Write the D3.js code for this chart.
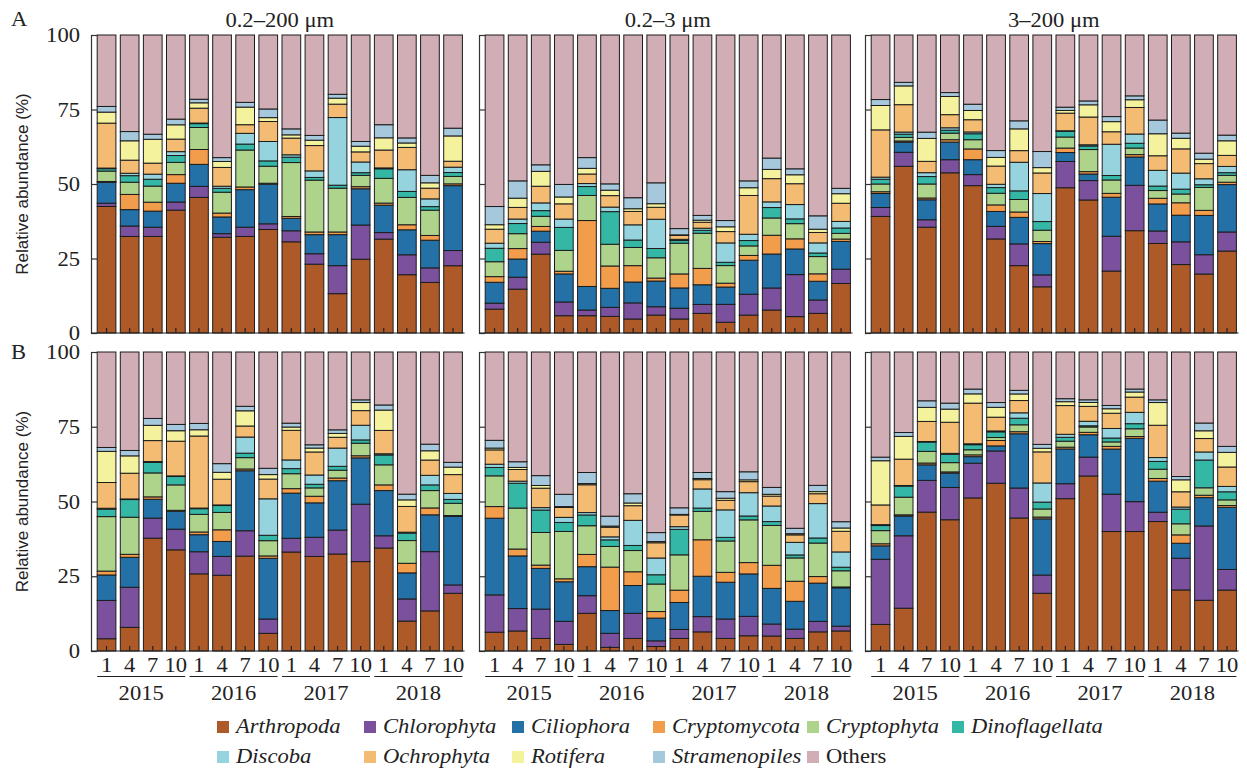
<!DOCTYPE html>
<html>
<head>
<meta charset="utf-8">
<script src="https://cdn.jsdelivr.net/npm/d3@7"></script>
<style>
  body { margin: 0; background: #fff; }
  svg { display: block; }
</style>
</head>
<body>
<svg id="chart" width="1247" height="770"></svg>
<script>
// taxa, bottom to top of every bar
const categories = ["Arthropoda", "Chlorophyta", "Ciliophora", "Cryptomycota", "Cryptophyta",
  "Dinoflagellata", "Discoba", "Ochrophyta", "Rotifera", "Stramenopiles", "Others"];
const colors = ["#ad5a28", "#7b519d", "#2471a8", "#f29d4b", "#aed38a",
  "#35b7a6", "#95d3df", "#f4bc72", "#f5f29e", "#a6c8dc", "#d1adb6"];
const months = ["1", "4", "7", "10"];
const years = ["2015", "2016", "2017", "2018"];
const sizeFractions = ["0.2\u2013200 \u03bcm", "0.2\u20133 \u03bcm", "3\u2013200 \u03bcm"];
const rowNames = ["A", "B"];
const yTicks = [0, 25, 50, 75, 100];

// relative abundance (%) per sample, order = categories
const a1 = [
  [42.5,1.1,7.0,0.3,3.5,0.8,0.2,15.1,3.7,1.9,24.0],
  [32.4,3.5,5.5,5.1,4.1,2.2,0.8,4.4,6.5,3.1,32.4],
  [32.4,3.1,5.4,3.0,5.4,2.3,1.7,3.7,8.0,1.7,33.3],
  [41.2,2.7,6.3,2.9,4.1,2.3,1.3,4.2,4.8,1.9,28.2],
  [45.6,3.7,7.4,5.0,7.4,1.3,0.2,5.0,1.8,1.2,21.6],
  [32.1,1.2,5.6,1.3,7.0,1.3,0.7,6.3,2.0,1.3,41.1],
  [32.4,3.1,12.6,0.9,12.4,2.0,3.6,2.9,5.9,1.6,22.6],
  [34.7,1.9,13.3,0.3,5.7,1.8,6.5,6.7,1.3,2.9,24.8],
  [30.6,3.7,4.2,0.6,18.1,1.8,0.8,5.6,1.1,2.0,31.5],
  [23.1,3.5,6.4,0.9,17.4,0.9,2.2,8.5,1.8,1.6,33.7],
  [13.2,9.4,10.4,0.9,14.7,1.0,22.7,4.5,2.0,1.3,19.9],
  [24.8,11.5,12.2,0.7,3.8,0.9,3.6,3.4,1.9,1.6,35.8],
  [31.5,2.2,9.2,0.7,8.3,3.2,0.3,6.0,4.1,4.4,30.1],
  [19.6,6.7,8.4,1.7,9.2,2.0,7.3,7.5,1.5,1.7,34.6],
  [17.0,4.9,9.3,1.6,8.5,1.2,2.6,3.6,1.8,2.5,47.2],
  [22.6,5.1,21.8,0.6,2.5,1.3,1.8,2.0,8.5,2.6,31.3]
];
const a2 = [
  [8.0,2.0,7.0,1.9,5.0,4.5,1.7,4.7,1.5,6.1,57.5],
  [14.7,4.0,6.1,3.5,5.0,3.4,1.5,3.9,3.1,5.8,48.9],
  [26.5,4.0,3.7,1.6,3.4,1.9,2.6,5.6,5.0,2.2,43.6],
  [5.8,4.6,9.4,0.9,7.0,7.7,2.8,5.1,2.3,4.2,50.1],
  [5.8,1.9,7.9,22.1,8.4,3.0,1.0,3.2,1.9,3.6,41.1],
  [5.5,3.0,6.3,7.4,7.2,10.8,1.5,3.8,1.8,2.1,49.3],
  [4.7,5.4,7.0,5.5,6.1,2.5,5.1,4.5,0.9,3.7,54.6],
  [6.0,2.8,8.6,1.0,6.8,3.1,9.8,4.0,1.2,7.0,49.5],
  [4.7,3.6,6.8,4.7,10.3,0.9,0.4,1.3,0.2,2.1,64.9],
  [6.6,3.0,6.6,5.5,11.8,1.0,0.7,2.0,0.7,1.6,60.6],
  [3.6,6.0,5.8,1.3,5.9,1.1,6.5,3.8,1.6,2.1,62.2],
  [6.0,7.0,11.4,1.6,3.2,1.8,2.1,13.0,2.6,2.3,48.9],
  [7.7,7.4,11.4,6.3,5.8,3.5,1.9,7.8,3.1,3.8,41.3],
  [5.5,14.1,8.6,3.4,5.1,1.6,4.8,7.0,3.0,2.0,44.9],
  [6.6,4.5,6.3,2.5,5.8,1.2,3.4,3.5,1.1,4.5,60.8],
  [16.6,4.8,9.3,0.8,1.9,1.8,2.2,6.1,3.2,1.8,51.4]
];
const a3 = [
  [39.2,3.0,4.7,0.6,2.6,1.6,0.7,15.9,8.2,2.0,21.7],
  [56.0,4.7,3.4,0.4,1.2,1.1,0.7,9.2,6.3,1.2,15.9],
  [35.5,2.5,6.7,0.6,4.7,2.5,1.3,3.8,7.7,2.1,32.6],
  [53.7,4.4,5.9,0.8,2.2,1.0,0.8,4.4,6.1,1.3,19.3],
  [49.4,3.7,5.0,3.6,3.1,2.0,0.6,4.1,3.1,2.1,23.2],
  [31.5,4.2,5.0,2.2,3.9,1.9,1.1,6.1,2.9,2.3,38.7],
  [22.6,7.3,8.9,1.8,4.2,2.9,9.6,3.9,7.3,2.7,28.8],
  [15.5,4.0,10.5,0.7,3.8,2.9,9.4,6.9,1.8,5.4,39.1],
  [48.7,8.8,3.0,1.5,3.7,1.9,0.2,5.9,0.9,1.1,24.2],
  [44.6,6.5,2.2,0.8,7.4,1.2,0.4,9.3,4.1,1.3,22.1],
  [20.8,11.7,13.1,1.3,4.5,1.5,10.5,4.2,3.4,1.7,27.4],
  [34.3,15.2,9.5,0.8,2.2,1.6,3.1,8.9,2.6,1.3,20.4],
  [30.1,4.2,9.1,1.9,2.6,1.5,5.3,4.9,7.4,4.6,28.6],
  [22.6,7.5,8.8,4.1,2.9,1.6,5.3,8.0,3.5,1.7,32.4],
  [19.8,6.5,13.2,1.7,7.7,0.9,2.0,5.1,1.5,2.0,39.7],
  [27.5,6.4,15.9,0.8,2.3,0.9,2.1,3.7,4.9,1.9,33.6]
];
const b1 = [
  [4.1,12.8,8.5,1.3,18.2,2.5,0.3,8.6,10.4,1.3,31.9],
  [7.9,13.4,10.0,1.0,12.4,5.9,0.2,8.6,5.8,1.8,32.9],
  [37.7,6.7,6.3,0.8,8.0,3.5,0.3,7.0,5.1,2.3,22.2],
  [33.8,6.9,6.0,0.3,8.5,2.8,0.2,11.6,3.5,2.1,24.2],
  [25.8,7.4,5.7,0.9,5.9,1.9,0.2,24.1,2.1,2.1,23.9],
  [25.3,6.3,5.0,3.9,5.8,2.3,0.2,8.6,2.3,2.9,37.3],
  [31.8,8.5,20.1,0.6,3.8,1.5,5.4,3.7,5.1,1.5,18.2],
  [5.9,4.8,20.3,0.8,5.1,1.8,12.2,6.6,1.5,2.1,38.9],
  [33.1,4.6,15.1,1.5,5.0,1.7,2.9,9.9,1.1,1.3,23.8],
  [31.6,6.4,11.5,2.2,2.8,1.2,3.1,7.7,1.3,1.1,31.0],
  [32.4,8.0,16.5,0.9,2.6,1.3,6.1,3.6,1.3,1.2,26.0],
  [29.9,19.2,15.5,0.7,4.2,1.1,4.9,4.9,2.7,0.9,16.0],
  [34.4,4.1,15.1,1.9,6.7,3.3,0.4,7.8,6.8,1.7,17.7],
  [10.0,7.4,8.7,3.2,7.6,2.5,0.3,8.6,2.2,1.9,47.5],
  [13.4,19.8,12.3,2.3,5.8,1.9,3.2,5.1,3.1,2.2,30.8],
  [19.3,2.8,22.9,0.3,4.1,1.3,2.0,6.3,2.5,1.6,36.9]
];
const b2 = [
  [6.3,12.5,25.7,3.9,10.3,2.8,1.1,4.8,0.6,2.6,29.6],
  [6.7,7.5,17.6,2.3,13.7,8.3,0.7,3.9,0.7,1.9,36.7],
  [4.2,9.8,13.6,1.1,10.9,7.5,0.8,6.5,0.9,3.3,41.3],
  [2.2,7.7,13.2,1.0,15.8,3.0,1.7,3.3,0.3,4.1,47.5],
  [12.6,5.9,9.7,4.1,9.6,3.6,0.8,9.3,0.4,3.7,40.3],
  [1.2,4.7,7.6,14.5,6.9,2.2,1.0,3.2,0.4,3.3,54.8],
  [4.2,8.4,9.3,4.6,7.1,1.7,8.4,4.9,0.9,3.1,47.4],
  [1.5,1.9,7.6,2.2,9.2,3.1,5.6,5.1,0.4,3.0,60.4],
  [4.2,3.0,9.0,4.1,11.8,8.5,0.9,3.9,0.2,2.2,52.0],
  [6.4,5.1,13.5,12.2,9.5,1.1,6.4,3.1,0.4,2.0,40.3],
  [4.2,6.5,12.3,3.3,10.5,1.2,9.2,3.2,0.7,2.2,46.7],
  [5.1,6.5,14.2,3.8,14.3,1.3,7.8,3.7,0.6,2.7,40.1],
  [5.0,4.0,11.9,7.7,13.3,1.3,5.2,3.3,0.6,2.3,45.2],
  [4.2,3.1,9.3,6.7,7.8,1.0,4.2,2.5,0.4,1.8,58.9],
  [6.4,3.5,12.8,2.2,11.2,1.7,11.5,3.3,0.7,2.1,44.6],
  [6.7,1.6,12.8,0.3,5.4,1.2,5.1,6.9,1.1,2.1,56.7]
];
const b3 = [
  [8.9,21.8,4.5,0.7,4.4,1.7,0.3,6.6,14.8,1.2,35.2],
  [14.3,24.2,6.6,0.4,5.9,3.7,0.2,8.8,7.6,1.3,26.9],
  [46.4,10.6,5.2,0.6,3.9,3.1,0.2,6.7,4.7,2.2,16.3],
  [43.9,10.8,4.8,0.4,3.1,2.8,0.3,10.4,4.4,2.0,17.1],
  [51.2,11.6,2.2,0.6,1.7,1.7,0.3,13.6,3.1,1.6,12.4],
  [56.1,10.8,1.7,1.8,1.0,1.9,0.3,4.6,3.3,1.6,16.9],
  [44.4,10.0,18.1,0.7,2.3,2.2,1.8,4.1,2.2,1.2,12.8],
  [19.3,6.1,18.8,0.6,2.7,2.3,6.4,10.4,1.2,1.3,30.9],
  [50.9,5.0,11.6,0.6,2.0,1.3,1.0,9.6,1.3,1.0,15.6],
  [58.6,6.3,7.5,0.8,1.8,0.4,1.5,5.0,1.3,0.9,16.0],
  [40.0,12.5,15.1,0.9,1.5,1.3,3.2,5.1,1.5,1.1,17.9],
  [40.0,10.0,21.2,0.6,2.6,1.7,3.8,5.1,1.7,1.0,12.4],
  [43.3,3.1,10.4,0.9,3.1,2.6,1.3,10.8,7.6,0.9,16.0],
  [20.4,10.6,5.0,2.8,3.7,4.9,0.7,5.1,4.0,1.1,41.6],
  [17.0,24.9,9.5,0.8,2.5,9.3,2.7,4.5,2.6,2.6,23.8],
  [20.4,6.9,20.8,0.6,1.9,2.7,1.8,6.5,4.9,2.0,31.6]
];
const panels = [[a1, a2, a3], [b1, b2, b3]];

const svg = d3.select("#chart");
const serif = '"Liberation Serif","Times New Roman",serif';
const sans = '"Liberation Sans",Arial,sans-serif';
const SX = 1.13;               // the figure's text is a bit wider than tall
const panelLeft = [91, 479, 865];
const rowRange = [[333, 35], [651, 352]];
const step = 23.1;

const samples = years.flatMap(yr => months.map(m => yr + "-" + m));
const color = d3.scaleOrdinal().domain(d3.range(categories.length)).range(colors);
const stack = d3.stack().keys(d3.range(categories.length)).offset(d3.stackOffsetExpand);

function stretched(parent, x, y, str, anchor, size, italic) {
  return parent.append("g")
      .attr("transform", `translate(${x},${y}) scale(${SX},1)`)
    .append("text")
      .attr("text-anchor", anchor)
      .attr("font-family", serif)
      .attr("font-size", size)
      .attr("font-style", italic ? "italic" : "normal")
      .attr("fill", "#222")
      .text(str);
}

rowNames.forEach((rowName, r) => {
  const y = d3.scaleLinear().domain([0, 100]).range(rowRange[r]);

  panels[r].forEach((rows, p) => {
    const x0 = panelLeft[p] + 4;
    const x = d3.scaleBand()
      .domain(samples)
      .range([x0, x0 + step * samples.length])
      .paddingInner(0.19)
      .paddingOuter(0.095);
    const g = svg.append("g");

    g.selectAll("g.layer")
      .data(stack(rows))
      .join("g")
        .attr("class", "layer")
        .attr("fill", d => color(d.key))
      .selectAll("rect")
      .data(d => d)
      .join("rect")
        .attr("x", (d, i) => x(samples[i]))
        .attr("width", x.bandwidth())
        .attr("y", d => y(d[1] * 100))
        .attr("height", d => y(d[0] * 100) - y(d[1] * 100))
        .attr("stroke", "#1c1c1c")
        .attr("stroke-width", 1);

    // left axis, inward ticks
    g.append("g")
      .attr("transform", `translate(${panelLeft[p]},0)`)
      .call(d3.axisLeft(y).tickValues(yTicks).tickSizeInner(-6).tickSizeOuter(-6).tickFormat(""))
      .call(a => a.selectAll("path,line").attr("stroke", "#333").attr("stroke-width", 1.2));

    // bottom axis, small ticks pointing up into the bars
    g.append("g")
      .attr("transform", `translate(0,${rowRange[r][0]})`)
      .call(d3.axisBottom(x).tickSizeInner(-5).tickSizeOuter(0).tickFormat(""))
      .call(a => a.select(".domain").attr("d", `M${panelLeft[p]},0H${x0 + step * samples.length}`))
      .call(a => a.selectAll("path,line").attr("stroke", "#222").attr("stroke-width", 1.2));

    if (p === 0) {
      yTicks.forEach(t => stretched(svg, panelLeft[0] - 11, y(t) + 7, t, "end", 20));
    }

    if (r === 0) {
      stretched(svg, x0 + step * samples.length / 2, 27, sizeFractions[p], "middle", 20);
    }

    if (r === 1) {
      samples.forEach((s, i) => {
        stretched(svg, x(s) + x.bandwidth() / 2, 672, months[i % months.length], "middle", 20);
      });
      years.forEach(yr => {
        const xa = x(yr + "-" + months[0]);
        const xb = x(yr + "-" + months[months.length - 1]) + x.bandwidth();
        svg.append("line")
          .attr("x1", xa).attr("x2", xb)
          .attr("y1", 676.5).attr("y2", 676.5)
          .attr("stroke", "#222").attr("stroke-width", 1.2);
        stretched(svg, (xa + xb) / 2, 700, yr, "middle", 20);
      });
    }
  });

  const yc = (rowRange[r][0] + rowRange[r][1]) / 2;
  svg.append("text")
    .attr("transform", `translate(28,${yc}) rotate(-90)`)
    .attr("text-anchor", "middle")
    .attr("font-family", sans)
    .attr("font-size", 17)
    .attr("fill", "#222")
    .text("Relative abundance (%)");

  stretched(svg, 11, r === 0 ? 26 : 359, rowName, "start", 20);
});

// legend: two rows, second row lines up with the first row's columns
const legendCols = [217, 364, 512, 653, 807, 952];
const legendRows = [727, 757];
const legend = svg.append("g");
let lastEnd = 0;
categories.forEach((name, i) => {
  const row = i < legendCols.length ? 0 : 1;
  const col = row === 0 ? i : i - legendCols.length;
  if (col === 0) lastEnd = 0;
  const lx = Math.max(legendCols[col], lastEnd + 3);
  const ly = legendRows[row];
  legend.append("rect")
    .attr("x", lx).attr("y", ly - 6)
    .attr("width", 12).attr("height", 12)
    .attr("fill", color(i));
  const t = stretched(legend, lx + 19, ly + 6, name, "start", 20, name !== "Others");
  lastEnd = lx + 19 + t.node().getComputedTextLength() * SX;
});
</script>
</body>
</html>
